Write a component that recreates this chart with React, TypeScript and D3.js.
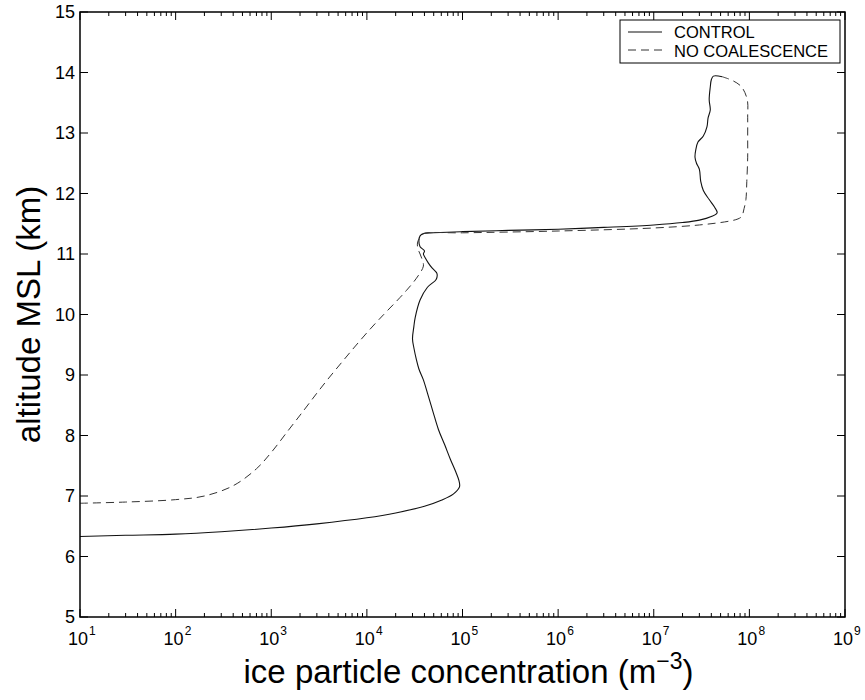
import React from "react";
import * as d3 from "d3";

const controlConc = [10, 30, 100, 300, 1000, 3000, 1e4, 2e4, 4e4, 6e4, 8e4, 9.3e4, 9.2e4, 8.5e4, 7.5e4, 6.5e4, 5.6e4, 4.9e4, 4.3e4, 3.9e4, 3.5e4, 3.3e4, 3.1e4, 3.0e4, 3.1e4, 3.2e4, 3.6e4, 4.3e4, 5.3e4, 5.4e4, 4.8e4, 4.4e4, 4.1e4, 3.9e4, 4.0e4, 3.6e4, 3.5e4, 3.6e4, 3.9e4, 5e4, 1e5, 3e5, 1e6, 3e6, 1e7, 2e7, 3e7, 4e7, 4.6e7, 4.3e7, 3.8e7, 3.3e7, 3.1e7, 3.0e7, 2.8e7, 2.7e7, 2.75e7, 2.9e7, 3.3e7, 3.6e7, 3.7e7, 3.9e7, 3.8e7, 3.9e7, 4.0e7, 4.2e7, 5.2e7];
const controlAlt = [6.33, 6.35, 6.37, 6.41, 6.47, 6.54, 6.64, 6.72, 6.83, 6.93, 7.03, 7.15, 7.25, 7.4, 7.6, 7.85, 8.1, 8.4, 8.7, 8.92, 9.1, 9.25, 9.45, 9.6, 9.8, 9.95, 10.24, 10.45, 10.58, 10.68, 10.77, 10.85, 10.93, 11.0, 11.05, 11.12, 11.22, 11.3, 11.34, 11.35, 11.37, 11.39, 11.41, 11.44, 11.48, 11.52, 11.56, 11.62, 11.68, 11.78, 11.9, 12.05, 12.2, 12.4, 12.5, 12.6, 12.72, 12.85, 12.95, 13.1, 13.25, 13.38, 13.55, 13.76, 13.88, 13.94, 13.93];

const noCoalConc = [10, 30, 100, 200, 400, 700, 1000, 1500, 2200, 3000, 4000, 5600, 7600, 1.07e4, 1.5e4, 2.1e4, 2.6e4, 3.3e4, 3.9e4, 3.8e4, 3.6e4, 3.4e4, 3.4e4, 3.7e4, 4e4, 1e5, 1e6, 1e7, 3e7, 6e7, 7.6e7, 8.3e7, 8.8e7, 9.2e7, 9.4e7, 9.6e7, 9.6e7, 9.6e7, 9.5e7, 8.3e7, 6.8e7, 5.2e7];
const noCoalAlt = [6.88, 6.9, 6.94, 7.0, 7.17, 7.45, 7.72, 8.08, 8.42, 8.7, 8.95, 9.23, 9.48, 9.75, 10.0, 10.24, 10.4, 10.6, 10.8, 10.9, 11.0, 11.1, 11.2, 11.3, 11.34, 11.35, 11.38, 11.43, 11.48, 11.54, 11.58, 11.62, 11.75, 11.9, 12.2, 12.6, 12.9, 13.26, 13.55, 13.76, 13.86, 13.93];

const xExponents = [1, 2, 3, 4, 5, 6, 7, 8, 9];
const yTicks = [5, 6, 7, 8, 9, 10, 11, 12, 13, 14, 15];
const legendLabels = ["CONTROL", "NO COALESCENCE"];

const W = 865;
const H = 700;
const L = 80;
const R = 845;
const T = 12;
const B = 617;
const FONT = "'Liberation Sans', Arial, Helvetica, sans-serif";

export default function App() {
  const x = d3.scaleLog().domain([1e1, 1e9]).range([L, R]);
  const y = d3.scaleLinear().domain([5, 15]).range([B, T]);
  const line = d3
    .line<[number, number]>()
    .x((d) => x(d[0]))
    .y((d) => y(d[1]))
    .curve(d3.curveCatmullRom.alpha(0.5));
  const ctrl = controlConc.map((c, i) => [c, controlAlt[i]] as [number, number]);
  const noc = noCoalConc.map((c, i) => [c, noCoalAlt[i]] as [number, number]);

  const minor: number[] = [];
  for (let e = 1; e < 9; e++) for (let k = 2; k <= 9; k++) minor.push(k * Math.pow(10, e));

  const bx0 = 620;
  const bx1 = 840;
  const by0 = 20;
  const by1 = 63;
  return (
    <svg width={W} height={H} style={{ display: "block", position: "absolute", left: 0, top: 0 }}>
      <rect width={W} height={H} fill="#fff" />
      <path d={line(ctrl) || ""} fill="none" stroke="#111" strokeWidth={1.1} />
      <path d={line(noc) || ""} fill="none" stroke="#333" strokeWidth={1} strokeDasharray="8,5" />
      {/* frame */}
      <rect x={L} y={T} width={R - L} height={B - T} fill="none" stroke="#000" strokeWidth={1.5} />
      {/* x ticks */}
      {xExponents.map((e) => {
        const px = x(Math.pow(10, e));
        return (
          <g key={"xt" + e}>
            <line x1={px} x2={px} y1={B} y2={B - 8} stroke="#000" />
            <line x1={px} x2={px} y1={T} y2={T + 8} stroke="#000" />
            <text x={px - 2} y={B + 28} textAnchor="middle" fontFamily={FONT} fontSize={18} fill="#000">
              10
            </text>
            <text x={px + 9} y={B + 18} textAnchor="start" fontFamily={FONT} fontSize={12} fill="#000">
              {e}
            </text>
          </g>
        );
      })}
      {minor.map((v, i) => {
        const px = x(v);
        return (
          <g key={"mt" + i}>
            <line x1={px} x2={px} y1={B} y2={B - 4} stroke="#000" />
            <line x1={px} x2={px} y1={T} y2={T + 4} stroke="#000" />
          </g>
        );
      })}
      {yTicks.map((t) => {
        const py = y(t);
        return (
          <g key={"yt" + t}>
            <line x1={L} x2={L + 8} y1={py} y2={py} stroke="#000" />
            <line x1={R} x2={R - 8} y1={py} y2={py} stroke="#000" />
            <text x={L - 5} y={py + 6} textAnchor="end" fontFamily={FONT} fontSize={18} fill="#000">
              {t}
            </text>
          </g>
        );
      })}
      {/* axis titles */}
      <text x={(L + R) / 2 + 6} y={B + 66} textAnchor="middle" fontFamily={FONT} fontSize={33} fill="#000">
        ice particle concentration (m
        <tspan dy={-14} fontSize={23}>−3</tspan>
        <tspan dy={14}>)</tspan>
      </text>
      <text
        transform={`translate(${40},${(T + B) / 2}) rotate(-90)`}
        textAnchor="middle"
        fontFamily={FONT}
        fontSize={33}
        fill="#000"
      >
        altitude MSL (km)
      </text>
      {/* legend */}
      <rect x={bx0} y={by0} width={bx1 - bx0} height={by1 - by0} fill="#fff" stroke="#000" strokeWidth={1} />
      <line x1={bx0 + 8} x2={bx0 + 42} y1={by0 + 12} y2={by0 + 12} stroke="#111" strokeWidth={1.1} />
      <line x1={bx0 + 8} x2={bx0 + 42} y1={by0 + 30} y2={by0 + 30} stroke="#333" strokeDasharray="8,5" />
      <text x={bx0 + 54} y={by0 + 18} fontFamily={FONT} fontSize={16.5} fill="#000">
        {legendLabels[0]}
      </text>
      <text x={bx0 + 54} y={by0 + 37} fontFamily={FONT} fontSize={16.5} fill="#000">
        {legendLabels[1]}
      </text>
    </svg>
  );
}
